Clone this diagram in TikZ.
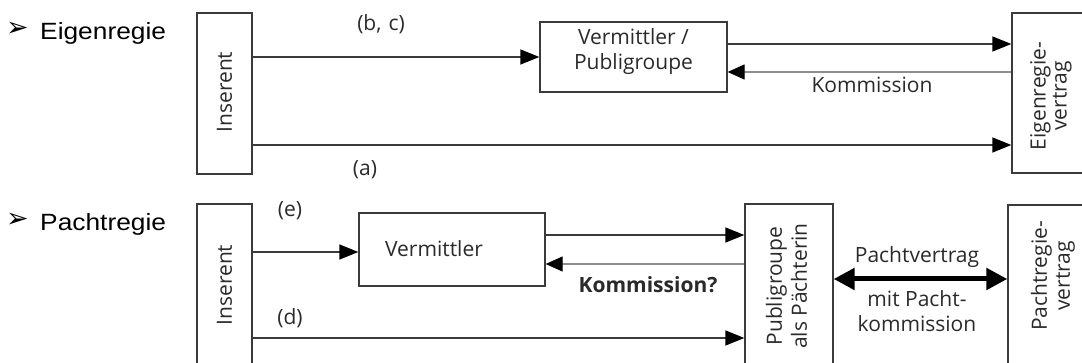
\documentclass[tikz,border=0pt]{standalone}
\usepackage{fontspec}
\setmainfont{Open Sans}
\newfontfamily\arialfont[FakeStretch=1.12]{Liberation Sans}
\newfontfamily\symfont{DejaVu Sans}
\usetikzlibrary{arrows.meta}
\definecolor{txt}{HTML}{2A2A2A}
\definecolor{linec}{HTML}{3A3A3A}
\definecolor{lightl}{HTML}{8E8E8E}
\begin{document}
\begin{tikzpicture}[x=1pt,y=-1pt,
  box/.style={draw=linec, line width=1.3pt, fill=white, inner sep=0pt},
  lbl/.style={text=txt, font=\fontsize{21}{25}\selectfont, inner sep=0pt},
  rlbl/.style={lbl, rotate=90, align=center},
  head/.style={text=black, font=\arialfont\fontsize{23.5}{28}\selectfont, inner sep=0pt, anchor=west},
  bul/.style={text=black, font=\symfont\fontsize{27}{30}\selectfont, inner sep=0pt},
  arr/.style={draw=linec, line width=1.3pt, -{Triangle[length=19pt,width=15pt,color=black]}},
  larr/.style={draw=lightl, line width=1.3pt, -{Triangle[length=17pt,width=15pt,color=black]}},
  thick arr/.style={draw=black, line width=5pt, {Triangle[length=21pt,width=21pt]}-{Triangle[length=21pt,width=21pt]}}
]
\useasboundingbox (0,0) rectangle (1082,363);
\clip (0,0) rectangle (1082,363);

% headings
\node[bul] (b1) at (17.5,29) {➢};
\node[head] (h1) at (40,33) {Eigenregie};
\node[bul] (b2) at (17.5,220) {➢};
\node[head] (h2) at (40,224) {Pachtregie};

% ===== Eigenregie =====
\node[box, minimum width=55, minimum height=161] (ins1) at (224.5,93.5) {};
\node[rlbl] (ins1t) at (224.5,92) {Inserent};
\node[box, minimum width=187, minimum height=70] (vp) at (633.5,57) {};
\node[lbl, align=center] (vpt) at (633.5,52) {Vermittler /\\Publigroupe};
\node[box, minimum width=78, minimum height=160] (ev) at (1051,93) {};
\node[rlbl, font=\fontsize{21}{21}\selectfont] (evt) at (1051,96) {Eigenregie-\\vertrag};

\draw[arr] (ins1.east |- vp.west) -- (vp.west);
\node[lbl] (bc) at (381,24) {(b,\,\,c)};
\draw[arr] (vp.east |- 0,44) -- (ev.west |- 0,44);
\draw[larr] (ev.west |- 0,72) -- (vp.east |- 0,72);
\node[lbl] (kom1) at (872,85) {Kommission};
\draw[arr] (ins1.east |- 0,145) -- (ev.west |- 0,145);
\node[lbl] (a) at (365,170) {(a)};

% ===== Pachtregie =====
\node[box, minimum width=55, minimum height=170] (ins2) at (224.5,289) {};
\node[rlbl] (ins2t) at (224.5,285) {Inserent};
\node[box, minimum width=186, minimum height=73] (ver) at (452,249.5) {};
\node[lbl] (vert) at (434,249) {Vermittler};
\node[box, minimum width=88, minimum height=170] (pub) at (789,289) {};
\node[rlbl, font=\fontsize{21}{25}\selectfont] (pubt) at (786.5,286) {Publigroupe\\als Pächterin};
\node[box, minimum width=90, minimum height=170] (pv) at (1053,290) {};
\node[rlbl, font=\fontsize{21}{23}\selectfont] (pvt) at (1053,276) {Pachtregie-\\vertrag};

\draw[arr] (ins2.east |- 0,252) -- (ver.west |- 0,252);
\node[lbl] (e) at (290,211) {(e)};
\draw[arr] (ver.east |- 0,235) -- (pub.west |- 0,235);
\draw[larr] (pub.west |- 0,264) -- (ver.east |- 0,264);
\node[lbl, font=\bfseries\fontsize{21}{25}\selectfont] (kom2) at (648,285) {Kommission?};
\draw[arr] (ins2.east |- 0,338) -- (pub.west |- 0,338);
\node[lbl] (d) at (290,318) {(d)};

\draw[thick arr] (pub.east |- 0,279) -- (pv.west |- 0,279);
\node[lbl] (pvtr) at (917,257) {Pachtvertrag};
\node[lbl, align=center] (mpk) at (917,311) {mit Pacht-\\kommission};
\end{tikzpicture}
\end{document}
